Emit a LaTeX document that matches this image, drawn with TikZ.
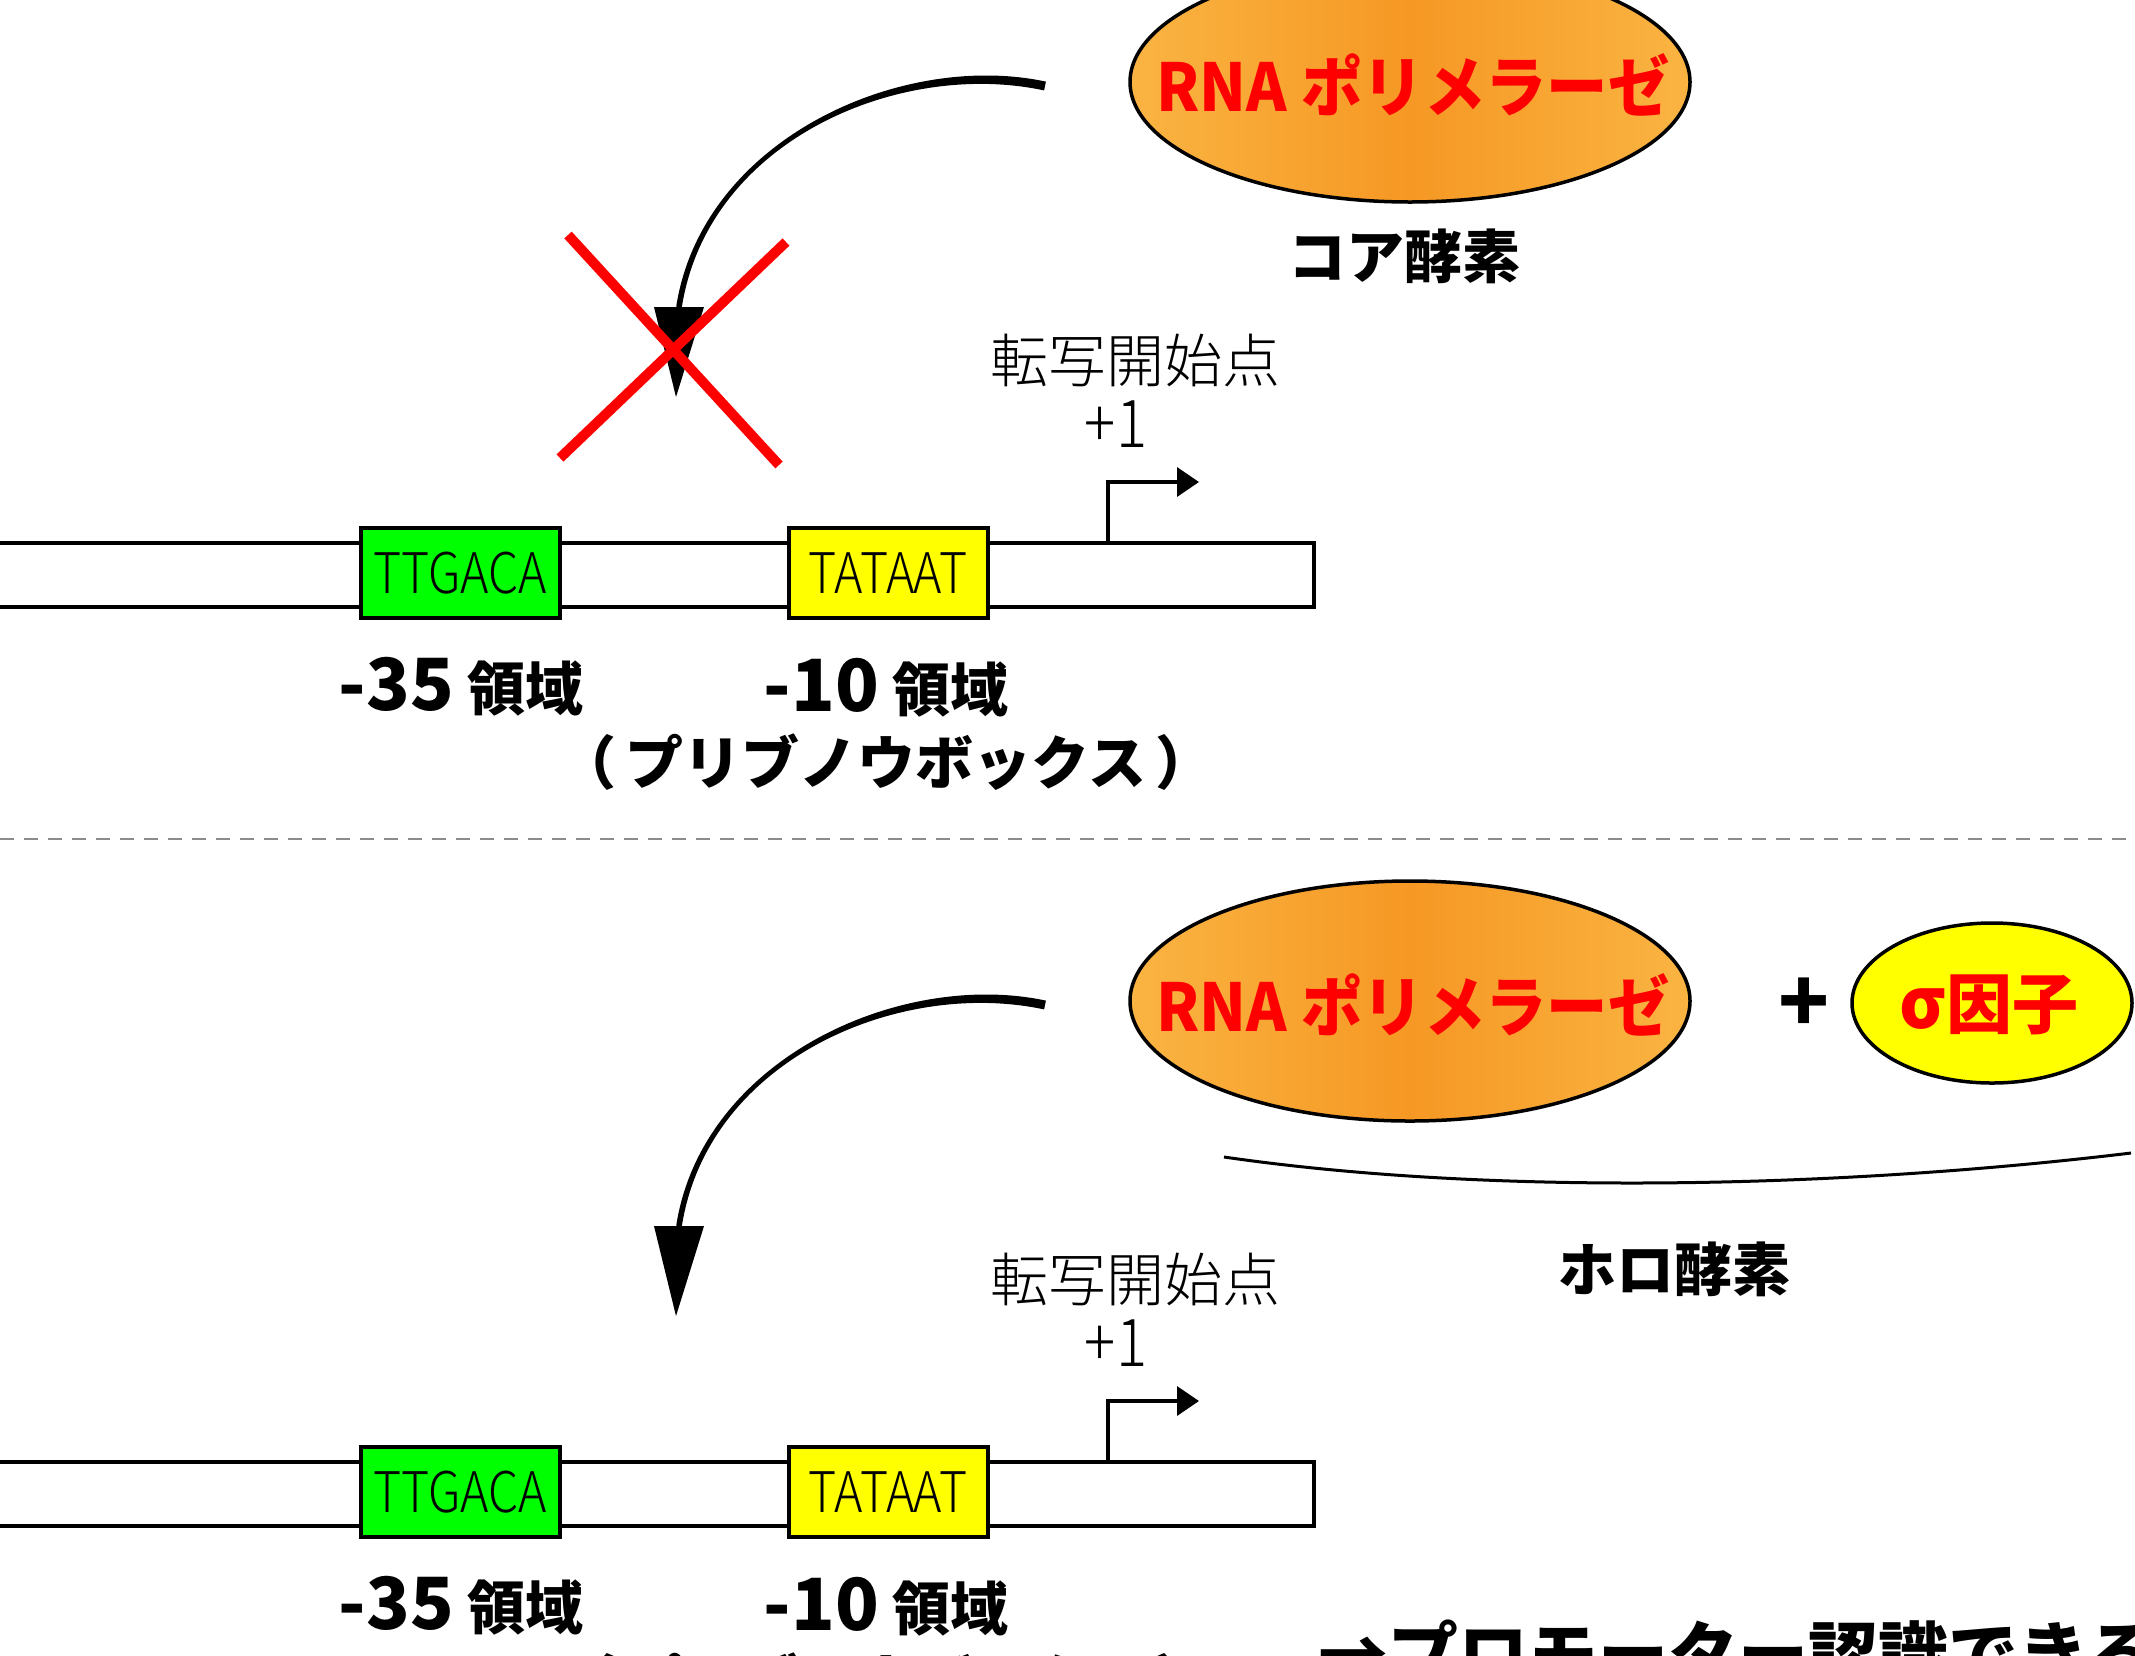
\documentclass[tikz,border=0pt]{standalone}
\usepackage{fontspec}
\newfontfamily\jp{Noto Sans CJK JP}
\newfontfamily\jpk{Noto Sans CJK JP Black}
\newfontfamily\jpl{Noto Sans CJK JP Light}
\usetikzlibrary{shapes.geometric,arrows.meta}
\definecolor{orgdark}{RGB}{246,152,36}
\definecolor{orglight}{RGB}{250,180,66}
\definecolor{xred}{RGB}{255,0,0}
\definecolor{boxgreen}{RGB}{0,255,0}
\definecolor{boxyellow}{RGB}{255,255,0}
\definecolor{dashgray}{RGB}{140,140,140}
\newcommand\hsq[2]{\scalebox{#1}[1]{#2}}
\newcommand\bignum[1]{{\fontsize{72}{76}\selectfont #1}}
\tikzset{
  pol/.style={ellipse, draw, line width=3.5pt, minimum width=560pt, minimum height=240pt, inner sep=0pt,
    left color=orglight, right color=orglight, middle color=orgdark},
  sigmanode/.style={ellipse, draw, line width=3.5pt, minimum width=280pt, minimum height=160pt, inner sep=0pt, fill=boxyellow},
  redtxt/.style={inner sep=0pt, text=xred, font=\jpk\fontsize{66}{70}\selectfont},
  boldtxt/.style={inner sep=0pt, font=\jpk\fontsize{58}{62}\selectfont},
  bigtxt/.style={inner sep=0pt, font=\jpk\fontsize{70}{74}\selectfont},
  plustxt/.style={inner sep=0pt, font=\jpk\fontsize{84}{88}\selectfont},
  thintxt/.style={inner sep=0pt, font=\jpl\fontsize{58}{62}\selectfont},
  seqbox/.style={draw, line width=4pt, minimum width=199pt, minimum height=90pt, inner sep=0pt, font=\jpl\fontsize{56}{58}\selectfont},
  dna/.style={line width=4pt},
  redx/.style={draw=xred, line width=10pt},
  tss/.style={line width=3.5pt, -{Triangle[length=22pt,width=29pt]}},
  sepline/.style={draw=dashgray, line width=2.5pt, dash pattern=on 14pt off 10pt},
  holoarc/.style={line width=3pt},
}
\begin{document}
\begin{tikzpicture}[x=1pt,y=-1pt]
\useasboundingbox (0,0) rectangle (2135,1655);
\clip (0,0) rectangle (2135,1655);
\fill[white] (0,0) rectangle (2135,1655);

% ---------------- top ----------------
\node[pol] (pol1) at (1410,82) {};
\node[redtxt] (pol1t) at (1413,85) {\hsq{0.93}{RNA ポリメラーゼ}};
\node[boldtxt] (core) at (1404,256) {コア酵素};

\coordinate (a1s) at (1045,86);
\coordinate (a1e) at (679,307);
\coordinate (a1t) at (676,397);
\fill (1045.9,81.6) .. controls (900.9,50.6) and (702.2,139.6) .. (676.2,306.6)
   -- (681.8,307.4) .. controls (707.8,140.4) and (899.1,59.4) .. (1044.1,90.4) -- cycle;
\fill ([xshift=-25pt]a1e) -- ([xshift=25pt]a1e) -- (a1t) -- cycle;

\coordinate (x1a) at (568,235);
\coordinate (x1b) at (779,465);
\coordinate (x2a) at (786,242);
\coordinate (x2b) at (560,458);
\draw[redx] (x1a) -- (x1b);
\draw[redx] (x2a) -- (x2b);

\draw[dna] (-20,543) -- (1314,543) -- (1314,607) -- (-20,607);
\node[seqbox, fill=boxgreen] (b35a) at (460,573) {\hsq{0.86}{TTGACA}};
\node[seqbox, fill=boxyellow] (b10a) at (888,573) {\hsq{0.86}{TATAAT}};
\coordinate (tss1) at (1108,543);
\coordinate (tss1e) at (1199,482);
\draw[tss] (tss1) |- (tss1e);
\node[thintxt] (tsl1) at (1135,360) {転写開始点};
\node[thintxt] (pone1) at (1116,424) {\hsq{0.88}{\fontsize{66}{70}\selectfont +1}};
\node[boldtxt] (r35a) at (461,687) {\bignum{-35} 領域};
\node[boldtxt] (r10a) at (886,688) {\bignum{-10} 領域};
\node[boldtxt] (pb1) at (886,762) {（\,プリブノウボックス\,）};

% ---------------- separator ----------------
\coordinate (sepl) at (0,839);
\coordinate (sepr) at (2135,839);
\draw[sepline] (sepl) -- (sepr);

% ---------------- bottom ----------------
\node[pol] (pol2) at (1410,1001) {};
\node[redtxt] (pol2t) at (1413,1005) {\hsq{0.93}{RNA ポリメラーゼ}};
\node[plustxt] (plus) at (1804,1005) {+};
\node[sigmanode] (sig) at (1992,1003) {};
\node[redtxt] (sigt) at (1989,1005) {{\fontsize{70}{74}\selectfont σ}因子};
\coordinate (h1) at (1224,1157);
\coordinate (h2) at (2131,1153);
\draw[holoarc] (h1) .. controls (1500,1197) and (1850,1187) .. (h2);
\node[boldtxt] (holo) at (1674,1269) {ホロ酵素};

\coordinate (a2s) at (1045,1005);
\coordinate (a2e) at (679,1226);
\coordinate (a2t) at (676,1316);
\fill (1045.9,1000.6) .. controls (900.9,969.6) and (702.2,1058.6) .. (676.2,1225.6)
   -- (681.8,1226.4) .. controls (707.8,1059.4) and (899.1,978.4) .. (1044.1,1009.4) -- cycle;
\fill ([xshift=-25pt]a2e) -- ([xshift=25pt]a2e) -- (a2t) -- cycle;

\draw[dna] (-20,1462) -- (1314,1462) -- (1314,1526) -- (-20,1526);
\node[seqbox, fill=boxgreen] (b35b) at (460,1492) {\hsq{0.86}{TTGACA}};
\node[seqbox, fill=boxyellow] (b10b) at (888,1492) {\hsq{0.86}{TATAAT}};
\coordinate (tss2) at (1108,1462);
\coordinate (tss2e) at (1199,1401);
\draw[tss] (tss2) |- (tss2e);
\node[thintxt] (tsl2) at (1135,1279) {転写開始点};
\node[thintxt] (pone2) at (1116,1343) {\hsq{0.88}{\fontsize{66}{70}\selectfont +1}};
\node[boldtxt] (r35b) at (461,1606) {\bignum{-35} 領域};
\node[boldtxt] (r10b) at (886,1607) {\bignum{-10} 領域};
\node[boldtxt] (pb2) at (886,1681) {（\,プリブノウボックス\,）};
\node[bigtxt, anchor=north west] (concl) at (1318,1620) {→プロモーター認識できる};
\end{tikzpicture}
\end{document}
